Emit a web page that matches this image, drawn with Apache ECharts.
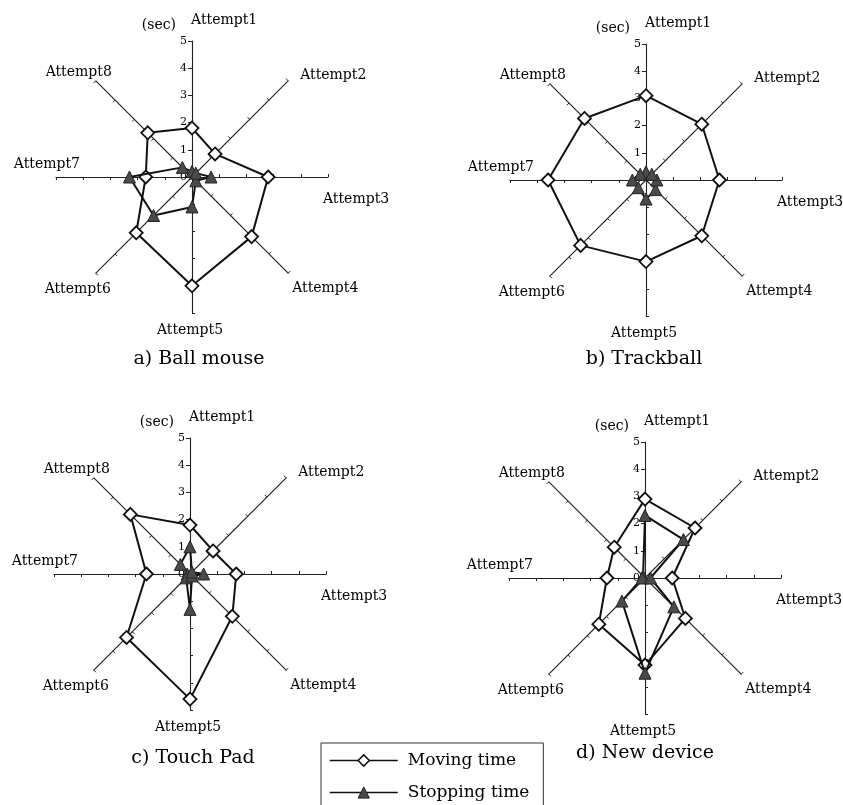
<!DOCTYPE html>
<html>
<head>
<meta charset="utf-8">
<script src="https://cdn.jsdelivr.net/npm/echarts@6/dist/echarts.min.js"></script>
<style>
  html, body { margin: 0; padding: 0; background: #fff; }
  #chart { width: 843px; height: 805px; }
</style>
</head>
<body>
<div id="chart"></div>
<script>
// Axis categories and the value range shown on every spoke (seconds)
const attempts = ['Attempt1', 'Attempt2', 'Attempt3', 'Attempt4', 'Attempt5', 'Attempt6', 'Attempt7', 'Attempt8'];
const axisMin = 0;
const axisMax = 5;
const axisStep = 1;
const unitLabel = '(sec)';

// Panel captions and series names
const panelTitles = ['a) Ball mouse', 'b) Trackball', 'c) Touch Pad', 'd) New device'];
const seriesNames = ['Moving time', 'Stopping time'];

// Values per attempt (Attempt1 .. Attempt8), seconds
const movingBallMouse   = [1.8, 1.2, 2.8, 3.1, 4.0, 2.9, 1.7, 2.3];
const stoppingBallMouse = [0.2, 0.2, 0.7, 0.2, 1.1, 2.0, 2.3, 0.5];
const movingTrackball   = [3.1, 2.9, 2.7, 2.9, 3.0, 3.4, 3.6, 3.2];
const stoppingTrackball = [0.3, 0.3, 0.4, 0.5, 0.7, 0.4, 0.5, 0.3];
const movingTouchPad    = [1.8, 1.2, 1.7, 2.2, 4.6, 3.3, 1.6, 3.1];
const stoppingTouchPad  = [1.0, 0.1, 0.5, 0.1, 1.3, 0.2, 0.1, 0.5];
const movingNewDevice   = [2.9, 2.6, 1.0, 2.1, 3.2, 2.4, 1.4, 1.6];
const stoppingNewDevice = [2.3, 2.0, 0.2, 1.5, 3.5, 1.2, 0.1, 0.1];

const panelValues = [
  [movingBallMouse, stoppingBallMouse],
  [movingTrackball, stoppingTrackball],
  [movingTouchPad, stoppingTouchPad],
  [movingNewDevice, stoppingNewDevice]
];

// Layout of the four panels: radar centre and caption centre (px)
const R = 136;
const panels = [
  { cx: 192, cy: 177, tx: 199, ty: 359 },
  { cx: 646, cy: 180, tx: 644, ty: 359 },
  { cx: 190, cy: 574, tx: 193, ty: 758 },
  { cx: 645, cy: 578, tx: 645, ty: 753 }
];

// Radar lays indicators out counter-clockwise; this order puts them clockwise from the top
const order = [0, 7, 6, 5, 4, 3, 2, 1];
const reorder = arr => order.map(i => arr[i]);

const FONT = 'DejaVu Serif';
const nameBase = { fontFamily: FONT, fontSize: 14, color: '#000' };
// per-spoke nudges of the axis names
const nameRich = {
  sec: Object.assign({}, nameBase, { padding: [0, 15, 28, 15] }),
  n1: Object.assign({}, nameBase, { padding: [0, 0, 38, 0] }),
  n2: Object.assign({}, nameBase, { padding: [0, 0, 44, 29] }),
  n3: Object.assign({}, nameBase, { padding: [44, 0, 0, 19] }),
  n4: Object.assign({}, nameBase, { padding: [64, 0, 0, 21] }),
  n5: Object.assign({}, nameBase, { padding: [34, 4, 0, 0] }),
  n6: Object.assign({}, nameBase, { padding: [66, 2, 0, 0] }),
  n7: Object.assign({}, nameBase, { padding: [0, 0, 26, 0] }),
  n8: Object.assign({}, nameBase, { padding: [0, 1, 50, 0] })
};

function radarFor(p) {
  return {
    center: [p.cx, p.cy],
    radius: R,
    startAngle: 90,
    splitNumber: (axisMax - axisMin) / axisStep,
    shape: 'polygon',
    indicator: order.map(i => ({ name: attempts[i], min: axisMin, max: axisMax })),
    nameGap: -24,
    axisName: Object.assign({}, nameBase, {
      formatter: function (name) {
        const k = attempts.indexOf(name) + 1;
        if (k === 1) return '{sec|' + unitLabel + '}{n1|' + name + '}';
        return '{n' + k + '|' + name + '}';
      },
      rich: nameRich
    }),
    axisLine: { show: true, lineStyle: { color: '#222', width: 1.1 } },
    axisTick: { show: true, length: 3, lineStyle: { color: '#222', width: 1 } },
    axisLabel: { show: false },
    splitLine: { show: false },
    splitArea: { show: false }
  };
}

const movingStyle = {
  symbol: 'diamond',
  symbolSize: 13,
  lineStyle: { color: '#111', width: 2 },
  itemStyle: { color: '#fff', borderColor: '#111', borderWidth: 1.8 }
};
const stoppingStyle = {
  symbol: 'triangle',
  symbolSize: 12,
  lineStyle: { color: '#111', width: 2 },
  itemStyle: { color: '#4a4a4a', borderColor: '#222', borderWidth: 1 }
};

const series = [
  // legend entries (line icon with marker)
  Object.assign({ type: 'line', name: seriesNames[0], xAxisIndex: 0, yAxisIndex: 0, data: [] }, movingStyle),
  Object.assign({ type: 'line', name: seriesNames[1], xAxisIndex: 0, yAxisIndex: 0, data: [] }, stoppingStyle)
];
panels.forEach((p, k) => {
  series.push(Object.assign({
    type: 'radar', radarIndex: k, name: seriesNames[0], z: 2,
    data: [{ name: seriesNames[0], value: reorder(panelValues[k][0]) }]
  }, movingStyle));
  series.push(Object.assign({
    type: 'radar', radarIndex: k, name: seriesNames[1], z: 3,
    data: [{ name: seriesNames[1], value: reorder(panelValues[k][1]) }]
  }, stoppingStyle));
});

const option = {
  backgroundColor: '#fff',
  animation: false,
  title: panels.map((p, k) => ({
    text: panelTitles[k],
    left: p.tx - 5,
    top: p.ty - 5,
    textAlign: 'center',
    textVerticalAlign: 'middle',
    textStyle: { fontFamily: FONT, fontSize: 19, fontWeight: 'normal', color: '#000' }
  })),
  legend: {
    orient: 'vertical',
    left: 321,
    top: 743,
    height: 120,
    itemWidth: 68,
    itemHeight: 14,
    itemGap: 15,
    padding: [9, 14, 30, 8],
    borderColor: '#333',
    borderWidth: 1,
    selectedMode: false,
    textStyle: { fontFamily: FONT, fontSize: 17, color: '#000', padding: [0, 0, 0, 5] },
    data: [
      { name: seriesNames[0],
        itemStyle: { color: '#fff', borderColor: '#111', borderWidth: 1.5 },
        lineStyle: { color: '#111', width: 1.5 } },
      { name: seriesNames[1],
        itemStyle: { color: '#4a4a4a', borderColor: '#222', borderWidth: 1 },
        lineStyle: { color: '#111', width: 1.5 } }
    ]
  },
  // value scale 0..5 printed along the upward spoke of each panel
  grid: panels.map(p => ({ left: p.cx, top: p.cy - R, width: 1, height: R, containLabel: false })),
  xAxis: panels.map((p, k) => ({ gridIndex: k, type: 'value', show: false })),
  yAxis: panels.map((p, k) => ({
    gridIndex: k, type: 'value', min: axisMin, max: axisMax, interval: axisStep,
    axisLine: { show: false },
    axisTick: { show: true, length: 4, lineStyle: { color: '#222' } },
    axisLabel: { fontFamily: FONT, fontSize: 11, color: '#000', margin: 5 },
    splitLine: { show: false }
  })),
  radar: panels.map(radarFor),
  series: series
};

const chart = echarts.init(document.getElementById('chart'), null, { renderer: 'canvas' });
chart.setOption(option);
</script>
</body>
</html>
